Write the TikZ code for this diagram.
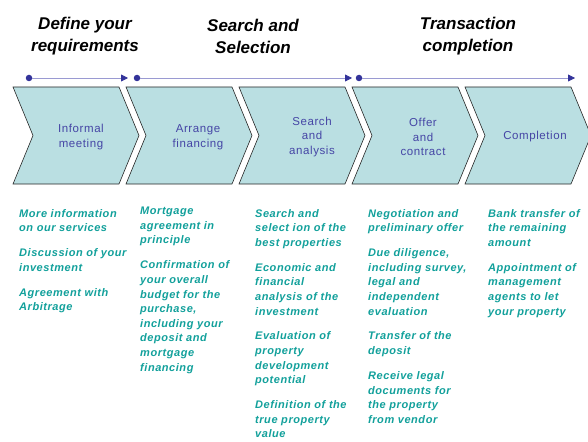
\documentclass[tikz,border=0pt]{standalone}
\usepackage{fontspec}
\setmainfont{Liberation Sans}
\usetikzlibrary{arrows.meta}
\definecolor{chevfill}{HTML}{BADFE2}
\definecolor{steptext}{HTML}{4545A5}
\definecolor{notetext}{HTML}{12A09B}
\definecolor{lineblue}{HTML}{9A9AD2}
\definecolor{dotblue}{HTML}{33339A}
\tikzset{
  chevron/.style={draw=black!85, line width=0.6pt, fill=chevfill},
  steplabel/.style={align=center, text=steptext,
    font=\fontsize{11.5}{14.5}\selectfont\addfontfeatures{LetterSpace=5}},
  phase/.style={align=center, font=\fontsize{17}{22}\selectfont\bfseries\itshape},
  notes/.style={anchor=north west, align=left, inner sep=0pt, text=notetext,
    font=\fontsize{11}{14.6}\selectfont\bfseries\itshape\addfontfeatures{LetterSpace=5}},
  phasedot/.style={circle, fill=dotblue, inner sep=0pt, minimum size=6.5pt},
  timeline/.style={lineblue, line width=0.8pt, -{Triangle[length=7pt,width=7pt,color=dotblue]}}
}
\begin{document}
\begin{tikzpicture}[x=1pt,y=-1pt]
  \useasboundingbox (0,0) rectangle (588,441);
  % phases
  \node[phase] (p1) at (85,36) {Define your\\requirements};
  \node[phase] (p2) at (253,36) {Search and\\Selection};
  \node[phase] (p3) at (468,36) {Transaction\\completion};
  % timeline
  \node[phasedot] (d1) at (29,78) {};
  \node[phasedot] (d2) at (137,78) {};
  \node[phasedot] (d3) at (359,78) {};
  \coordinate (e1) at (128,78);
  \coordinate (e2) at (352,78);
  \coordinate (e3) at (575,78);
  \draw[timeline] (d1) -- (e1);
  \draw[timeline] (d2) -- (e2);
  \draw[timeline] (d3) -- (e3);
  % chevrons
  \foreach \l in {13,126,239,352,465}
    \draw[chevron] (\l,87) -- ++(106,0) -- ++(20,48.5) -- ++(-20,48.5)
      -- ++(-106,0) -- ++(20,-48.5) -- cycle;
  \node[steplabel] (s1) at (81,137) {Informal\\meeting};
  \node[steplabel] (s2) at (198,137) {Arrange\\financing};
  \node[steplabel] (s3) at (312,137) {Search\\and\\analysis};
  \node[steplabel] (s4) at (423,137) {Offer\\and\\contract};
  \node[steplabel] (s5) at (535,137) {Completion};
  % notes
  \node[notes] (n1) at (19,209) {More information\\on our services\\[10.3pt]
    Discussion of your\\investment\\[10.3pt]
    Agreement with\\Arbitrage};
  \node[notes] (n2) at (140,207) {Mortgage\\agreement in\\principle\\[10.3pt]
    Confirmation of\\your overall\\budget for the\\purchase,\\including your\\deposit and\\mortgage\\financing};
  \node[notes] (n3) at (255,209) {Search and\\select ion of the\\best properties\\[10.3pt]
    Economic and\\financial\\analysis of the\\investment\\[10.3pt]
    Evaluation of\\property\\development\\potential\\[10.3pt]
    Definition of the\\true property\\value};
  \node[notes] (n4) at (368,209) {Negotiation and\\preliminary offer\\[10.3pt]
    Due diligence,\\including survey,\\legal and\\independent\\evaluation\\[10.3pt]
    Transfer of the\\deposit\\[10.3pt]
    Receive legal\\documents for\\the property\\from vendor};
  \node[notes] (n5) at (488,209) {Bank transfer of\\the remaining\\amount\\[10.3pt]
    Appointment of\\management\\agents to let\\your property};
\end{tikzpicture}
\end{document}
